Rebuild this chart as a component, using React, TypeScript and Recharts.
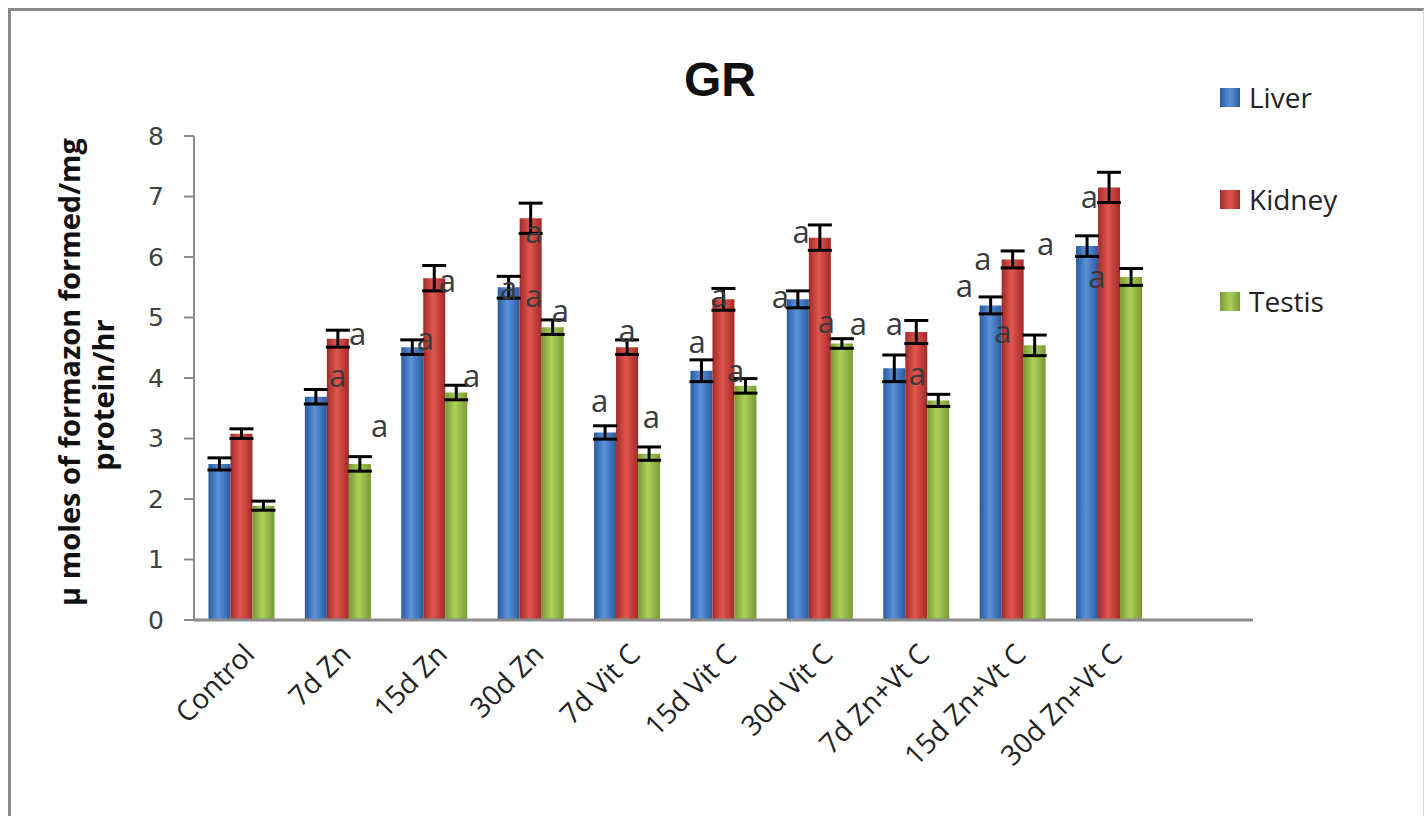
import React from 'react';
import { BarChart, Bar, XAxis, YAxis, ErrorBar, LabelList, Label } from 'recharts';

const categories = ['Control', '7d Zn', '15d Zn', '30d Zn', '7d Vit C', '15d Vit C', '30d Vit C', '7d Zn+Vt C', '15d Zn+Vt C', '30d Zn+Vt C'];
const liver = [2.58, 3.69, 4.51, 5.5, 3.1, 4.12, 5.3, 4.16, 5.2, 6.18];
const kidney = [3.08, 4.65, 5.65, 6.64, 4.51, 5.3, 6.32, 4.76, 5.96, 7.15];
const testis = [1.89, 2.58, 3.76, 4.84, 2.75, 3.87, 4.57, 3.63, 4.54, 5.67];
const liverErr = [0.1, 0.12, 0.12, 0.18, 0.11, 0.18, 0.14, 0.22, 0.14, 0.17];
const kidneyErr = [0.08, 0.14, 0.21, 0.25, 0.12, 0.18, 0.21, 0.19, 0.14, 0.25];
const testisErr = [0.075, 0.12, 0.12, 0.12, 0.11, 0.12, 0.08, 0.1, 0.17, 0.14];
const yTicks = [0, 1, 2, 3, 4, 5, 6, 7, 8];

// significance letters: category, organ, baseline level, shift in bar widths
const letters = [
  { cat: '7d Zn', organ: 'Kidney', level: 4.55, shift: 0.9 },
  { cat: '7d Zn', organ: 'Kidney', level: 3.85, shift: 0 },
  { cat: '7d Zn', organ: 'Testis', level: 3.02, shift: 0.9 },
  { cat: '15d Zn', organ: 'Kidney', level: 5.42, shift: 0.6 },
  { cat: '15d Zn', organ: 'Liver', level: 4.46, shift: 0.6 },
  { cat: '15d Zn', organ: 'Testis', level: 3.85, shift: 0.7 },
  { cat: '30d Zn', organ: 'Liver', level: 5.3, shift: 0 },
  { cat: '30d Zn', organ: 'Kidney', level: 6.23, shift: 0.15 },
  { cat: '30d Zn', organ: 'Kidney', level: 5.17, shift: 0.15 },
  { cat: '30d Zn', organ: 'Testis', level: 4.93, shift: 0.35 },
  { cat: '7d Vit C', organ: 'Liver', level: 3.44, shift: -0.25 },
  { cat: '7d Vit C', organ: 'Kidney', level: 4.6, shift: 0 },
  { cat: '7d Vit C', organ: 'Testis', level: 3.17, shift: 0.1 },
  { cat: '15d Vit C', organ: 'Liver', level: 4.41, shift: -0.2 },
  { cat: '15d Vit C', organ: 'Kidney', level: 5.17, shift: -0.2 },
  { cat: '15d Vit C', organ: 'Testis', level: 3.93, shift: -0.45 },
  { cat: '30d Vit C', organ: 'Kidney', level: 6.23, shift: -0.85 },
  { cat: '30d Vit C', organ: 'Liver', level: 5.16, shift: -0.8 },
  { cat: '30d Vit C', organ: 'Testis', level: 4.74, shift: -0.7 },
  { cat: '30d Vit C', organ: 'Testis', level: 4.71, shift: 0.75 },
  { cat: '7d Zn+Vt C', organ: 'Liver', level: 4.71, shift: 0 },
  { cat: '7d Zn+Vt C', organ: 'Kidney', level: 3.88, shift: 0.05 },
  { cat: '15d Zn+Vt C', organ: 'Liver', level: 5.34, shift: -1.2 },
  { cat: '15d Zn+Vt C', organ: 'Liver', level: 5.79, shift: -0.35 },
  { cat: '15d Zn+Vt C', organ: 'Kidney', level: 4.58, shift: -0.45 },
  { cat: '15d Zn+Vt C', organ: 'Testis', level: 6.03, shift: 0.5 },
  { cat: '30d Zn+Vt C', organ: 'Liver', level: 6.81, shift: 0.1 },
  { cat: '30d Zn+Vt C', organ: 'Liver', level: 5.49, shift: 0.45 },
];

const series = [
  { name: 'Liver', edge: '#2a5a9c', mid: '#5a93dc' },
  { name: 'Kidney', edge: '#a32a27', mid: '#e0574f' },
  { name: 'Testis', edge: '#789a33', mid: '#acd15a' },
];

const data = categories.map((c, i) => ({
  name: c,
  Liver: liver[i],
  Kidney: kidney[i],
  Testis: testis[i],
  LiverErr: liverErr[i],
  KidneyErr: kidneyErr[i],
  TestisErr: testisErr[i],
}));

const letterLabel = (organ: string) => (props: any) => {
  const vb = props.viewBox && props.viewBox.width != null ? props.viewBox : props;
  const x = Number(vb.x), y = Number(vb.y), w = Number(vb.width), h = Number(vb.height);
  const idx = props.index;
  const marks = letters.filter((l) => l.organ === organ && l.cat === categories[idx]);
  if (!marks.length) return null;
  const value = data[idx][organ as 'Liver'];
  const base = y + h;
  const perUnit = h / value;
  return (
    <g>
      {marks.map((m, i) => (
        <text key={i} x={x + w / 2 + m.shift * w} y={base - m.level * perUnit} textAnchor="middle"
          fontFamily="Open Sans" fontSize={31} fill="#3a3a3a">a</text>
      ))}
    </g>
  );
};

const XTick = (props: any) => {
  const { x, y, payload } = props;
  const tx = x + 14;
  const ty = y + 28;
  return (
    <text x={tx} y={ty} transform={`rotate(-45 ${tx} ${ty})`} textAnchor="end"
      fontFamily="Open Sans" fontSize={28} fill="#222">{payload.value}</text>
  );
};

const YTitle = () => (
  <g>
    <text x={0} y={0} transform="translate(80 372) rotate(-90)" textAnchor="middle"
      fontFamily="Open Sans" fontWeight="bold" fontSize={29} fill="#111">μ moles of formazon formed/mg</text>
    <text x={0} y={0} transform="translate(114 395) rotate(-90)" textAnchor="middle"
      fontFamily="Open Sans" fontWeight="bold" fontSize={29} fill="#111">protein/hr</text>
  </g>
);

export default function App() {
  return (
    <div style={{ position: 'absolute', left: 0, top: 0, width: 1425, height: 816, background: '#fff', overflow: 'hidden' }}>
      <div style={{ position: 'absolute', left: 8, top: 8, width: 1412, height: 830, borderTop: '3px solid #8a8a8a', borderLeft: '3px solid #8a8a8a', borderRight: '1px solid #d8d8d8' }} />
      <div style={{ position: 'absolute', left: 0, top: 52, width: 1440, textAlign: 'center', fontFamily: 'Liberation Sans', fontWeight: 'bold', fontSize: 48, color: '#111' }}>GR</div>
      <div style={{ position: 'absolute', left: 1220, top: 76 }}>
        {series.map((s) => (
          <div key={s.name} style={{ display: 'flex', alignItems: 'center', height: 42, marginBottom: 60 }}>
            <div style={{ width: 20, height: 19, background: `linear-gradient(90deg, ${s.edge}, ${s.mid} 50%, ${s.edge})`, marginRight: 9 }} />
            <span style={{ fontFamily: 'Open Sans', fontSize: 28, color: '#222' }}>{s.name}</span>
          </div>
        ))}
      </div>
      <div style={{ position: 'absolute', left: 0, top: 0 }}>
        <BarChart width={1425} height={816} data={data} margin={{ top: 136, right: 172, left: 114, bottom: 0 }}
          barCategoryGap="15%" barGap={0}>
          <defs>
            {series.map((s) => (
              <linearGradient key={s.name} id={`g${s.name}`} x1="0" y1="0" x2="1" y2="0">
                <stop offset="0%" stopColor={s.edge} />
                <stop offset="45%" stopColor={s.mid} />
                <stop offset="100%" stopColor={s.edge} />
              </linearGradient>
            ))}
          </defs>
          <XAxis dataKey="name" interval={0} tickLine={false} axisLine={{ stroke: '#8c8c8c', strokeWidth: 3 }}
            padding={{ left: 0, right: 95 }} tick={<XTick />} height={196} />
          <YAxis domain={[0, 8]} ticks={yTicks} width={80} axisLine={{ stroke: '#8c8c8c', strokeWidth: 2 }}
            tickLine={{ stroke: '#8c8c8c', strokeWidth: 2 }} tickSize={10} tickMargin={20}
            tick={{ fontFamily: 'DejaVu Sans', fontSize: 25, fill: '#404040' }}>
            <Label content={<YTitle />} />
          </YAxis>
          {series.map((s) => (
            <Bar key={s.name} dataKey={s.name} fill={`url(#g${s.name})`} isAnimationActive={false}>
              <ErrorBar dataKey={`${s.name}Err`} width={12} strokeWidth={3} stroke="#000" />
              <LabelList dataKey={s.name} content={letterLabel(s.name)} />
            </Bar>
          ))}
        </BarChart>
      </div>
    </div>
  );
}
